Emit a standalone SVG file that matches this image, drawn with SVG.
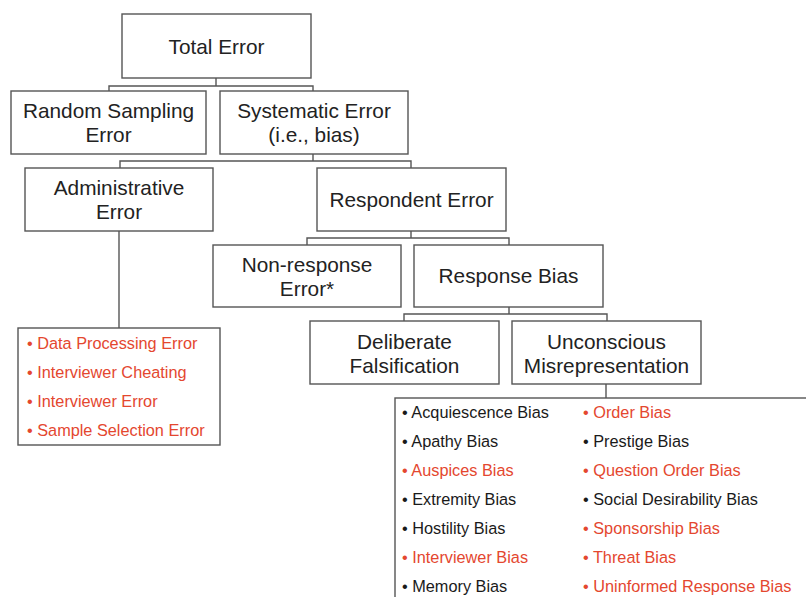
<svg xmlns="http://www.w3.org/2000/svg" width="806" height="597" viewBox="0 0 806 597">
<style>
.box{fill:#fff;stroke:#555;stroke-width:1.4}
.con{fill:none;stroke:#555;stroke-width:1.4}
.t{font-family:"Liberation Sans",Arial,sans-serif;font-size:20.8px;fill:#222;text-anchor:middle}
.l{font-family:"Liberation Sans",Arial,sans-serif;font-size:16.3px;fill:#1a1a1a}
.r{fill:#e4472f}
</style>
<rect width="806" height="597" fill="#fff"/>
<g id="connectors">
<path class="con" d="M216,78V86M109,91V86H313V91"/>
<path class="con" d="M313,154V161M120,168V161H411V168"/>
<path class="con" d="M119,231V328"/>
<path class="con" d="M411,231V238M307,245V238H509V245"/>
<path class="con" d="M509,307V314M404,321V314H607V321"/>
<path class="con" d="M606,384V398"/>
</g>
<g id="total-error"><rect class="box" x="122" y="14" width="189" height="64"/><text class="t" x="216.5" y="54">Total Error</text></g>
<g id="random-sampling"><rect class="box" x="11" y="91" width="195" height="63"/><text class="t" x="108.5" y="118">Random Sampling</text><text class="t" x="108.5" y="142">Error</text></g>
<g id="systematic"><rect class="box" x="220" y="91" width="188" height="63"/><text class="t" x="314" y="118">Systematic Error</text><text class="t" x="314" y="142">(i.e., bias)</text></g>
<g id="administrative"><rect class="box" x="25" y="168" width="188" height="63"/><text class="t" x="119" y="195">Administrative</text><text class="t" x="119" y="219">Error</text></g>
<g id="respondent"><rect class="box" x="317" y="168" width="189" height="63"/><text class="t" x="411.5" y="207">Respondent Error</text></g>
<g id="non-response"><rect class="box" x="213" y="245" width="188" height="62"/><text class="t" x="307" y="271.5">Non-response</text><text class="t" x="307" y="295.5">Error*</text></g>
<g id="response-bias"><rect class="box" x="414" y="245" width="189" height="62"/><text class="t" x="508.5" y="283">Response Bias</text></g>
<g id="deliberate"><rect class="box" x="310" y="321" width="189" height="63"/><text class="t" x="404.5" y="348.5">Deliberate</text><text class="t" x="404.5" y="372.5">Falsification</text></g>
<g id="unconscious"><rect class="box" x="512" y="321" width="189" height="63"/><text class="t" x="606.5" y="348.5">Unconscious</text><text class="t" x="606.5" y="372.5">Misrepresentation</text></g>
<g id="admin-list"><rect class="box" x="18" y="328" width="202" height="117"/>
<text class="l r" x="27" y="349">• Data Processing Error</text>
<text class="l r" x="27" y="378">• Interviewer Cheating</text>
<text class="l r" x="27" y="407">• Interviewer Error</text>
<text class="l r" x="27" y="436">• Sample Selection Error</text>
</g>
<g id="bias-list"><rect class="box" x="395" y="398" width="430" height="220"/>
<text class="l" x="402" y="418">• Acquiescence Bias</text>
<text class="l" x="402" y="447">• Apathy Bias</text>
<text class="l r" x="402" y="476">• Auspices Bias</text>
<text class="l" x="402" y="505">• Extremity Bias</text>
<text class="l" x="402" y="534">• Hostility Bias</text>
<text class="l r" x="402" y="563">• Interviewer Bias</text>
<text class="l" x="402" y="592">• Memory Bias</text>
<text class="l r" x="583" y="418">• Order Bias</text>
<text class="l" x="583" y="447">• Prestige Bias</text>
<text class="l r" x="583" y="476">• Question Order Bias</text>
<text class="l" x="583" y="505">• Social Desirability Bias</text>
<text class="l r" x="583" y="534">• Sponsorship Bias</text>
<text class="l r" x="583" y="563">• Threat Bias</text>
<text class="l r" x="583" y="592">• Uninformed Response Bias</text>
</g>
</svg>
